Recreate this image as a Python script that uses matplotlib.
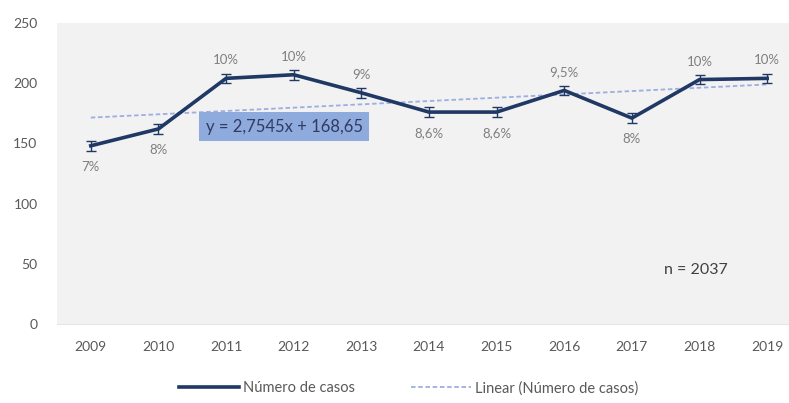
import matplotlib
matplotlib.use("Agg")
import matplotlib.pyplot as plt
from matplotlib.lines import Line2D
import numpy as np

plt.rcParams["font.family"] = ["Lato", "DejaVu Sans"]

# ── Datos ────────────────────────────────────────────────────────────────────
years = ["2009", "2010", "2011", "2012", "2013", "2014",
         "2015", "2016", "2017", "2018", "2019"]
casos = [148, 162, 204, 207, 192, 176, 176, 194, 171, 203, 204]
errores = [4, 4, 4, 4, 4, 4, 4, 4, 4, 4, 4]
etiquetas = ["7%", "8%", "10%", "10%", "9%", "8,6%",
             "8,6%", "9,5%", "8%", "10%", "10%"]
etiqueta_arriba = [False, False, True, True, True, False,
                   False, True, False, True, True]
total_n = 2037

# ── Colores ──────────────────────────────────────────────────────────────────
_C_LINE = "#1F3864"
_C_TREND = "#8FAADC"
_C_TREND_LN = "#9DAEE0"
_C_BG = "#F2F2F2"
_C_TXT = "#595959"
_C_LBL = "#7F7F7F"

x = np.arange(len(years))
pend, inter = np.polyfit(x + 1, casos, 1)
trend = pend * (x + 1) + inter

fig = plt.figure(figsize=(7.89, 4.03), dpi=100)
ax = fig.add_axes([0.0722, 0.196, 0.943, 0.747])
ax.set_facecolor(_C_BG)

ax.plot(x, trend, linestyle=(0, (2.5, 1.5)), color=_C_TREND_LN, lw=1.3,
        zorder=2)
ax.errorbar(x, casos, yerr=errores, color=_C_LINE, lw=2.6, ecolor=_C_LINE,
            elinewidth=1.0, capsize=3.5, capthick=1.0, zorder=3)

for xi, yi, txt, up in zip(x, casos, etiquetas, etiqueta_arriba):
    off = 13 if up else -15
    ax.annotate(txt, (xi, yi), xytext=(0, off), textcoords="offset points",
                ha="center", va="center", fontsize=9.5, color=_C_LBL)

ax.text(2.86, 164, f"y = {pend:.4f}x + {inter:.2f}".replace(".", ","),
        ha="center", va="center", fontsize=12, color="#2F3C64",
        bbox=dict(boxstyle="square,pad=0.38", facecolor=_C_TREND,
                  edgecolor="none"), zorder=4)

ax.text(8.95, 45, f"n = {total_n}", ha="center", va="center",
        fontsize=11.5, color="#404040")

ax.set_xlim(-0.5, len(years) - 0.5)
ax.set_ylim(0, 250)
ax.set_yticks([0, 50, 100, 150, 200, 250])
ax.set_xticks(x)
ax.set_xticklabels(years)
ax.tick_params(axis="both", length=0, labelsize=10, colors=_C_TXT)
ax.tick_params(axis="x", pad=12)
ax.tick_params(axis="y", pad=14)
for s in ax.spines.values():
    s.set_visible(False)
ax.spines["bottom"].set_visible(True)
ax.spines["bottom"].set_color("#E6E6E6")

handles = [
    Line2D([], [], color=_C_LINE, lw=2.6),
    Line2D([], [], color=_C_TREND_LN, lw=1.3, linestyle=(0, (2.5, 1.5))),
]
labels = ["Número de casos", "Linear (Número de casos)"]
fig.legend(handles, labels, loc="center",
           bbox_to_anchor=(0.518, 0.037), ncol=2, frameon=False,
           fontsize=10.5, handlelength=4.1, columnspacing=3.8,
           labelcolor=_C_TXT, handletextpad=0.3)

fig.savefig("out.png", dpi=100)
